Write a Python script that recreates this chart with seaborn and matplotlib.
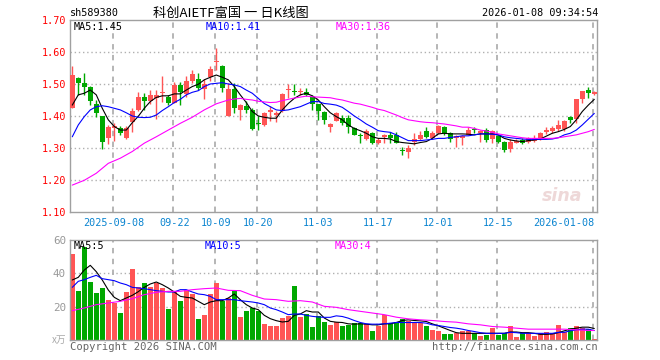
import numpy as np
import pandas as pd
import matplotlib
matplotlib.use("Agg")
import matplotlib.pyplot as plt
import seaborn as sns

# ---------------- data ----------------
date_ticks = ["2025-09-08", "09-22", "10-09", "10-20", "11-03", "11-17", "12-01", "12-15", "2026-01-08"]
date_tick_idx = [7, 17, 24, 31, 41, 51, 61, 71, 87]

opens = [1.427, 1.520, 1.505, 1.491, 1.4375, 1.400, 1.333, 1.365, 1.363, 1.331,
         1.383, 1.420, 1.460, 1.448, 1.458, 1.473, 1.459, 1.443, 1.498, 1.470,
         1.511, 1.517, 1.485, 1.524, 1.571, 1.557, 1.400, 1.485, 1.420, 1.432,
         1.420, 1.377, 1.373, 1.415, 1.405, 1.418, 1.483, 1.479, 1.475, 1.477,
         1.459, 1.438, 1.414, 1.368, 1.386, 1.396, 1.396, 1.362, 1.340, 1.329,
         1.349, 1.316, 1.336, 1.342, 1.342, 1.293, 1.290, 1.321, 1.329, 1.354,
         1.331, 1.349, 1.366, 1.347, 1.331, 1.331, 1.342, 1.359, 1.347, 1.357,
         1.328, 1.338, 1.320, 1.297, 1.316, 1.326, 1.321, 1.324, 1.331, 1.350,
         1.355, 1.359, 1.359, 1.398, 1.391, 1.454, 1.482, 1.469]
highs = [1.557, 1.522, 1.534, 1.495, 1.451, 1.401, 1.373, 1.378, 1.370, 1.370,
         1.425, 1.477, 1.474, 1.482, 1.482, 1.526, 1.466, 1.508, 1.508, 1.526,
         1.545, 1.534, 1.516, 1.557, 1.614, 1.560, 1.503, 1.505, 1.437, 1.448,
         1.425, 1.400, 1.415, 1.432, 1.417, 1.474, 1.500, 1.500, 1.487, 1.487,
         1.467, 1.440, 1.418, 1.378, 1.414, 1.404, 1.404, 1.368, 1.347, 1.360,
         1.352, 1.331, 1.344, 1.352, 1.352, 1.303, 1.310, 1.349, 1.354, 1.368,
         1.354, 1.373, 1.370, 1.352, 1.340, 1.341, 1.368, 1.366, 1.357, 1.362,
         1.357, 1.341, 1.324, 1.328, 1.328, 1.331, 1.334, 1.341, 1.352, 1.366,
         1.370, 1.390, 1.390, 1.401, 1.454, 1.479, 1.493, 1.479]
lows = [1.425, 1.467, 1.467, 1.435, 1.399, 1.297, 1.312, 1.323, 1.340, 1.329,
        1.352, 1.418, 1.420, 1.440, 1.392, 1.445, 1.435, 1.441, 1.435, 1.460,
        1.503, 1.482, 1.455, 1.511, 1.545, 1.475, 1.400, 1.411, 1.390, 1.410,
        1.357, 1.357, 1.370, 1.386, 1.383, 1.415, 1.456, 1.467, 1.467, 1.462,
        1.420, 1.390, 1.376, 1.352, 1.385, 1.373, 1.347, 1.340, 1.316, 1.325,
        1.315, 1.314, 1.316, 1.318, 1.316, 1.280, 1.269, 1.310, 1.325, 1.331,
        1.328, 1.345, 1.343, 1.320, 1.305, 1.310, 1.340, 1.347, 1.320, 1.320,
        1.316, 1.316, 1.290, 1.290, 1.316, 1.314, 1.318, 1.321, 1.326, 1.345,
        1.347, 1.355, 1.355, 1.380, 1.378, 1.441, 1.456, 1.466]
closes = [1.530, 1.505, 1.493, 1.448, 1.411, 1.321, 1.366, 1.370, 1.349, 1.363,
          1.417, 1.460, 1.449, 1.467, 1.467, 1.476, 1.443, 1.498, 1.477, 1.510,
          1.533, 1.487, 1.501, 1.548, 1.574, 1.489, 1.485, 1.426, 1.435, 1.420,
          1.360, 1.375, 1.410, 1.418, 1.410, 1.470, 1.486, 1.476, 1.478, 1.467,
          1.438, 1.418, 1.388, 1.376, 1.409, 1.380, 1.366, 1.342, 1.338, 1.355,
          1.318, 1.326, 1.341, 1.331, 1.318, 1.291, 1.300, 1.328, 1.342, 1.336,
          1.349, 1.370, 1.347, 1.329, 1.338, 1.338, 1.357, 1.357, 1.354, 1.326,
          1.354, 1.320, 1.295, 1.321, 1.324, 1.318, 1.331, 1.331, 1.349, 1.357,
          1.363, 1.373, 1.386, 1.389, 1.454, 1.479, 1.474, 1.476]

price_ma5 = [1.435, 1.467, 1.472, 1.482, 1.467, 1.425, 1.389, 1.368, 1.357, 1.357,
             1.380, 1.400, 1.425, 1.446, 1.459, 1.464, 1.464, 1.470, 1.470, 1.482,
             1.493, 1.500, 1.514, 1.522, 1.529, 1.522, 1.514, 1.493, 1.467, 1.443,
             1.415, 1.401, 1.397, 1.394, 1.394, 1.420, 1.440, 1.456, 1.467, 1.472,
             1.464, 1.451, 1.430, 1.411, 1.399, 1.389, 1.373, 1.362, 1.355, 1.347,
             1.336, 1.331, 1.331, 1.329, 1.321, 1.318, 1.316, 1.314, 1.318, 1.321,
             1.331, 1.345, 1.347, 1.345, 1.345, 1.345, 1.344, 1.342, 1.345, 1.345,
             1.345, 1.342, 1.331, 1.326, 1.323, 1.321, 1.324, 1.326, 1.329, 1.338,
             1.347, 1.352, 1.359, 1.368, 1.389, 1.415, 1.435, 1.453]
price_ma10 = [1.336, 1.373, 1.399, 1.420, 1.430, 1.433, 1.430, 1.425, 1.420, 1.411,
              1.401, 1.397, 1.396, 1.397, 1.404, 1.418, 1.430, 1.443, 1.453, 1.467,
              1.475, 1.480, 1.493, 1.501, 1.503, 1.505, 1.501, 1.498, 1.493, 1.482,
              1.472, 1.456, 1.440, 1.430, 1.420, 1.418, 1.420, 1.425, 1.430, 1.438,
              1.446, 1.446, 1.440, 1.438, 1.435, 1.428, 1.415, 1.401, 1.389, 1.376,
              1.366, 1.355, 1.352, 1.350, 1.342, 1.333, 1.324, 1.324, 1.324, 1.326,
              1.328, 1.331, 1.331, 1.334, 1.336, 1.339, 1.339, 1.342, 1.345, 1.345,
              1.344, 1.342, 1.336, 1.333, 1.331, 1.329, 1.328, 1.328, 1.328, 1.328,
              1.329, 1.333, 1.342, 1.347, 1.357, 1.373, 1.391, 1.409]
price_ma30_idx = [0, 2, 4, 6, 8, 10, 12, 14, 16, 18, 20, 22, 24, 26] + list(range(27, 88))
price_ma30 = [1.185, 1.200, 1.222, 1.253, 1.269, 1.290, 1.316, 1.336, 1.357, 1.378,
              1.397, 1.420, 1.439, 1.451,
              1.454, 1.456, 1.453, 1.451, 1.447, 1.445, 1.443, 1.444, 1.449, 1.453,
              1.457, 1.460, 1.463, 1.461, 1.460, 1.459, 1.458,
              1.454, 1.451, 1.446, 1.441, 1.438, 1.433, 1.428, 1.422, 1.418, 1.411,
              1.404, 1.396, 1.389, 1.386, 1.383, 1.381, 1.380, 1.378, 1.376, 1.373,
              1.370, 1.366,
              1.366, 1.362, 1.357, 1.354, 1.350, 1.345, 1.342, 1.339, 1.336, 1.333,
              1.331, 1.331, 1.331, 1.331, 1.331, 1.333, 1.336, 1.339, 1.342, 1.347,
              1.352, 1.359]

volume = [51.8, 29.6, 56.0, 34.8, 28.2, 31.2, 24.2, 22.2, 16.2, 28.8,
          42.6, 31.6, 34.2, 31.8, 34.2, 31.2, 18.6, 28.8, 23.6, 29.8,
          27.6, 12.8, 15.2, 27.8, 34.2, 23.2, 25.2, 29.8, 13.8, 17.2,
          19.2, 17.6, 9.6, 8.2, 8.2, 13.2, 14.6, 32.6, 13.6, 15.6,
          7.8, 14.2, 10.8, 9.2, 10.7, 8.7, 9.1, 10.5, 10.5, 9.7,
          5.5, 8.7, 15.2, 10.5, 10.9, 12.7, 11.7, 10.5, 10.5, 8.5,
          6.1, 5.5, 3.6, 3.6, 4.0, 5.7, 5.5, 4.0, 2.4, 3.0,
          7.1, 3.0, 4.0, 8.5, 2.0, 4.0, 4.0, 2.4, 4.0, 4.6,
          4.0, 9.1, 4.6, 7.1, 8.5, 7.5, 6.5, 0.6]
vol_ma5 = [36.0, 37.6, 42.0, 44.8, 41.0, 36.0, 30.0, 25.6, 23.6, 25.2,
           26.8, 29.0, 31.6, 33.6, 34.8, 33.2, 31.2, 28.8, 26.2, 25.6,
           25.2, 23.2, 21.2, 22.8, 23.6, 23.6, 25.2, 27.6, 24.2, 21.2,
           19.2, 18.2, 14.8, 12.8, 11.6, 10.8, 11.2, 14.8, 15.6, 17.6,
           16.8, 16.8, 13.2, 11.2, 10.7, 10.5, 9.7, 9.5, 9.7, 9.5,
           9.1, 9.1, 9.7, 9.7, 10.5, 11.7, 12.1, 11.7, 11.5, 11.1,
           9.7, 8.5, 7.1, 5.7, 4.4, 4.0, 4.0, 4.0, 4.0, 4.0,
           4.0, 4.0, 4.0, 4.8, 4.8, 4.4, 4.4, 4.0, 3.4, 3.4,
           3.6, 4.4, 5.5, 6.5, 7.1, 7.7, 7.7, 6.9]
vol_ma10 = [31.6, 35.2, 36.2, 37.6, 38.8, 36.8, 36.2, 35.6, 34.2, 33.2,
            31.6, 31.2, 30.8, 30.2, 29.6, 29.2, 28.8, 28.8, 30.2, 30.2,
            28.8, 27.6, 27.2, 26.2, 24.2, 24.2, 24.2, 24.2, 23.6, 23.2,
            22.8, 22.2, 21.2, 19.2, 18.2, 16.8, 15.2, 15.6, 15.6, 14.8,
            14.2, 13.8, 13.6, 13.6, 14.5, 14.1, 13.1, 11.7, 10.5, 9.7,
            9.5, 9.5, 9.7, 10.1, 10.5, 10.5, 10.5, 10.5, 10.5, 10.1,
            9.1, 8.7, 8.1, 7.5, 7.1, 6.5, 5.7, 5.1, 4.4, 4.0,
            4.0, 4.0, 4.0, 4.6, 4.4, 4.0, 4.0, 4.0, 4.0, 4.0,
            4.0, 4.6, 4.6, 5.5, 6.1, 6.5, 6.5, 5.7]
vol_ma30_idx = list(range(0, 88, 2)) + [87]
vol_ma30 = [17.6, 19.2, 21.2, 22.2, 23.2, 24.8, 27.2, 28.6, 29.2, 29.2, 30.2,
            30.8, 31.2, 29.8, 29.6, 26.8, 24.6, 24.2, 23.2, 23.6, 22.8, 20.2,
            19.6, 18.2, 17.2, 16.2, 15.2, 13.7, 12.7, 12.1, 11.7, 11.1, 10.7,
            9.7, 9.1, 8.1, 7.7, 7.1, 6.5, 6.5, 6.5, 6.5, 6.1, 5.7, 5.7]

price_ticks = [1.10, 1.20, 1.30, 1.40, 1.50, 1.60, 1.70]
vol_ticks = [20, 40, 60]

# ---------------- styling ----------------
sns.set_style("white")
plt.rcParams["font.family"] = ["DejaVu Sans Mono", "Noto Sans CJK SC"]
MONO = ["DejaVu Sans Mono", "Noto Sans CJK SC"]
CJK = ["Noto Sans CJK SC", "DejaVu Sans"]
RED = "#ff5555"
GREEN = "#00a800"
FRAME = "#a0a0a0"
GRID = "#b0b0b0"
XLAB = "#0a84d0"
FS = 7.3
LW = 0.8

W, H = 660, 360
fig = plt.figure(figsize=(W / 100, H / 100), dpi=100)
fig.patch.set_facecolor("white")


def rect(l, t, r, b):
    return [l / W, 1 - b / H, (r - l) / W, (b - t) / H]


axp = fig.add_axes(rect(70, 20.3, 597, 212.3))
axv = fig.add_axes(rect(70, 240, 597, 340))

n = len(closes)
idx = np.arange(n)
df = pd.DataFrame({"i": idx, "o": opens, "h": highs, "l": lows, "c": closes,
                   "v": volume, "ma5": price_ma5, "ma10": price_ma10,
                   "vma5": vol_ma5, "vma10": vol_ma10})
up = df["c"] >= df["o"]
colors = np.where(up, RED, GREEN)

XL = (-0.38, 87.45)
grid_x = [i - 0.2 for i in date_tick_idx]

for ax in (axp, axv):
    ax.set_xlim(*XL)
    for s in ax.spines.values():
        s.set_color(FRAME)
        s.set_linewidth(1.0)
    for gx in grid_x:
        ax.axvline(gx, color=GRID, lw=1.3, ls=(0, (3, 3)), zorder=0)
    ax.tick_params(length=0)

# price panel
axp.set_ylim(1.10, 1.70)
for yv in price_ticks[1:-1]:
    axp.axhline(yv, color=GRID, lw=1.0, ls=(0, (1, 2)), zorder=0)

# sina watermark
axp.text(0.972, 0.085, "sina", transform=axp.transAxes, ha="right", va="center",
         fontsize=12.5, fontweight="bold", style="italic", color="#eed8d8",
         family="DejaVu Sans", zorder=1)

axp.vlines(df["i"], df["l"], df["h"], colors=colors, lw=1.0, zorder=2)
body_lo = np.minimum(df["o"], df["c"])
body_h = np.maximum(np.abs(df["c"] - df["o"]), 0.0032)
axp.bar(df["i"], body_h, bottom=body_lo, width=0.78, color=colors, lw=0, zorder=3)

sns.lineplot(x=df["i"], y=df["ma5"], ax=axp, color="black", lw=LW, zorder=4)
sns.lineplot(x=df["i"], y=df["ma10"], ax=axp, color="#0000ff", lw=LW, zorder=4)
sns.lineplot(x=price_ma30_idx, y=price_ma30, ax=axp, color="#ff00ff", lw=LW, zorder=4)

axp.set_yticks(price_ticks)
axp.set_yticklabels([f"{t:.2f}" for t in price_ticks], color="#ff0000",
                    fontsize=FS, family=MONO)
axp.tick_params(axis="y", pad=3)
axp.set_xticks(date_tick_idx)
axp.set_xticklabels(date_ticks, color=XLAB, fontsize=FS, family=MONO)
axp.tick_params(axis="x", pad=4)
labs = axp.get_xticklabels()
labs[-1].set_ha("right")
axp.set_xlabel("")
axp.set_ylabel("")

# volume panel
axv.set_ylim(0, 60)
for yv in [20, 40]:
    axv.axhline(yv, color=GRID, lw=1.0, ls=(0, (1, 2)), zorder=0)
axv.bar(df["i"], df["v"], width=0.82, color=colors, lw=0, zorder=2)
sns.lineplot(x=df["i"], y=df["vma5"], ax=axv, color="black", lw=LW, zorder=4)
sns.lineplot(x=df["i"], y=df["vma10"], ax=axv, color="#0000ff", lw=LW, zorder=4)
sns.lineplot(x=vol_ma30_idx, y=vol_ma30, ax=axv, color="#ff00ff", lw=LW, zorder=4)
axv.set_yticks(vol_ticks)
axv.set_yticklabels([str(t) for t in vol_ticks], color="#999999", fontsize=FS + 0.5,
                    family=MONO)
axv.tick_params(axis="y", pad=3)
axv.set_xticks([])
axv.set_xlabel("")
axv.set_ylabel("")


def ftext(x, y, s, **kw):
    kw.setdefault("fontsize", FS)
    kw.setdefault("family", MONO)
    kw.setdefault("va", "center")
    fig.text(x / W, 1 - y / H, s, **kw)


ftext(70, 13, "sh589380", ha="left", color="black")
ftext(231, 13, "科创AIETF富国 一 日K线图", ha="center", color="black",
      family=CJK, fontsize=9.5)
ftext(598, 13, "2026-01-08 09:34:54", ha="right", color="black")

ftext(74, 27, "MA5:1.45", ha="left", color="black")
ftext(206, 27, "MA10:1.41", ha="left", color="#0000ff")
ftext(336, 27, "MA30:1.36", ha="left", color="#ff00ff")

ftext(74, 246, "MA5:5", ha="left", color="black")
ftext(205, 246, "MA10:5", ha="left", color="#0000ff")
ftext(335, 246, "MA30:4", ha="left", color="#ff00ff")

ftext(66, 340, "x万", ha="right", color="#aaaaaa", family=CJK, fontsize=7)
ftext(70, 346.5, "Copyright 2026 SINA.COM", ha="left", color="#666666", fontsize=FS + 0.3)
ftext(598, 346.5, "http://finance.sina.com.cn", ha="right", color="#666666", fontsize=FS + 0.3)

fig.savefig("out.png", dpi=100, facecolor="white")
